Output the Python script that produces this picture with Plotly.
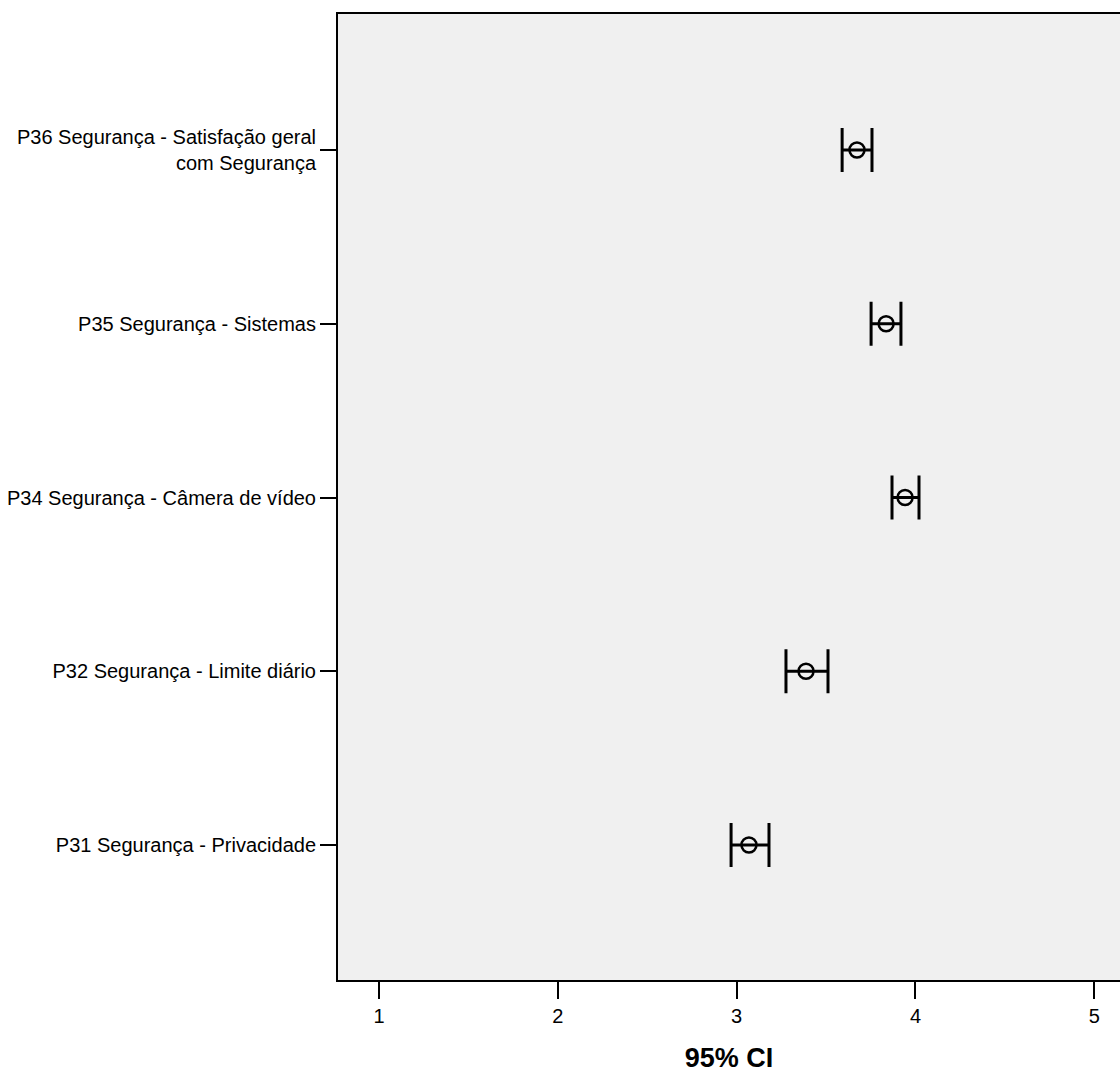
import plotly.graph_objects as go

# Items, listed bottom to top
categories = [
    "P31 Segurança - Privacidade",
    "P32 Segurança - Limite diário",
    "P34 Segurança - Câmera de vídeo",
    "P35 Segurança - Sistemas",
    "P36 Segurança - Satisfação geral<br>com Segurança",
]
means = [3.069, 3.388, 3.942, 3.836, 3.673]
ci_lower = [2.969, 3.276, 3.869, 3.752, 3.590]
ci_upper = [3.181, 3.511, 4.020, 3.919, 3.757]
x_ticks = [1, 2, 3, 4, 5]

positions = list(range(len(categories)))
err_plus = [u - m for u, m in zip(ci_upper, means)]
err_minus = [m - l for m, l in zip(means, ci_lower)]

FONT = "Liberation Sans, Arial, sans-serif"

fig = go.Figure(
    go.Scatter(
        x=means,
        y=positions,
        mode="markers",
        marker=dict(symbol="circle-open", size=15, color="black",
                    line=dict(width=2.5, color="black")),
        error_x=dict(type="data", symmetric=False, array=err_plus,
                     arrayminus=err_minus, color="black", thickness=3, width=22),
        hoverinfo="skip",
    )
)

fig.update_layout(
    width=1120,
    height=1081,
    margin=dict(l=338, r=0, t=14, b=101),
    paper_bgcolor="white",
    plot_bgcolor="#f0f0f0",
    showlegend=False,
    font=dict(family=FONT, color="black"),
)

fig.update_xaxes(
    range=[0.7707, 5.144],
    tickvals=x_ticks,
    ticktext=[str(v) for v in x_ticks],
    ticks="outside",
    ticklen=17,
    tickwidth=2,
    tickcolor="black",
    tickfont=dict(size=20, family=FONT, color="black"),
    showline=True,
    linecolor="black",
    linewidth=2,
    mirror=True,
    showgrid=False,
    zeroline=False,
    title=dict(text="<b>95% CI</b>", font=dict(size=27, family=FONT, color="black"),
               standoff=22),
)

fig.update_yaxes(
    range=[-0.777, 4.783],
    tickvals=positions,
    ticktext=categories,
    ticks="outside",
    ticklen=16,
    tickwidth=2,
    tickcolor="black",
    tickfont=dict(size=20, family=FONT, color="black"),
    showline=True,
    linecolor="black",
    linewidth=2,
    showgrid=False,
    zeroline=False,
)

fig.write_html("out.html")
